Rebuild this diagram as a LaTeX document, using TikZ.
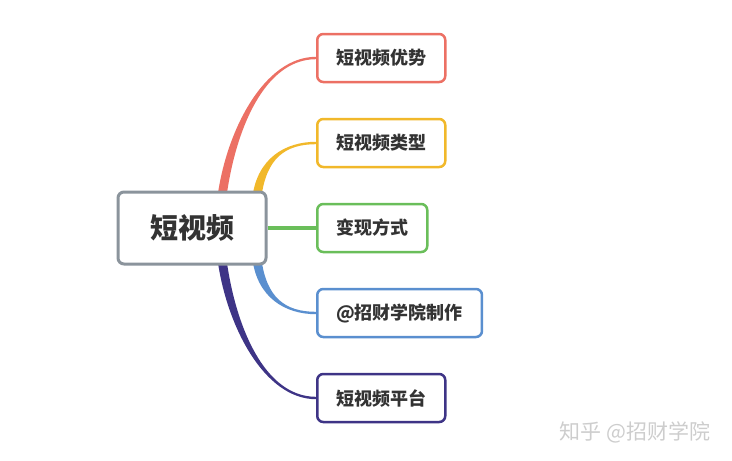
\documentclass[tikz,border=0pt]{standalone}
\usepackage{fontspec}
\newfontfamily\cjk{Noto Sans CJK SC}
\usetikzlibrary{positioning,calc,backgrounds}
\definecolor{rootColor}{RGB}{139,148,156}
\definecolor{textColor}{RGB}{51,51,51}
\definecolor{redColor}{RGB}{236,112,100}
\definecolor{yellowColor}{RGB}{241,184,42}
\definecolor{greenColor}{RGB}{106,190,90}
\definecolor{blueColor}{RGB}{90,143,207}
\definecolor{purpleColor}{RGB}{62,52,134}
\definecolor{markColor}{RGB}{205,205,205}
\tikzstyle{mindMap} = [x = 1pt, y = -1pt]
\tikzstyle{rootStyle} = [draw=rootColor, line width=3pt, fill=white, rounded corners = 6pt, minimum width=148pt, minimum height=72pt, text=textColor, font=\cjk\bfseries\fontsize{28}{30}\selectfont]
\tikzstyle{topicStyle} = [draw=#1, line width=2.5pt, fill=white, rounded corners = 6pt, minimum height=48pt, inner xsep=19pt, anchor=west, text=textColor, font=\cjk\bfseries\fontsize{18}{20}\selectfont]
\tikzstyle{markStyle} = [text=markColor, font=\cjk\fontsize{21}{24}\selectfont]
% color, start, end, first control offset, second control offset, half width, end shift
\newcommand{\branch}[7]{\fill [#1] ($(#2)+(-#6,0)$) .. controls ($(#2)+(#4)+(-#6,0)$) and ($(#3)+(#5)+(0,#7)$) .. ($(#3)+(0,#7)$) -- ($(#3)+(0,-#7)$) .. controls ($(#3)+(#5)+(0,-#7)$) and ($(#2)+(#4)+(#6,0)$) .. ($(#2)+(#6,0)$) -- cycle;}

\begin{document}
\begin{tikzpicture}[mindMap]
  \useasboundingbox (0,0) rectangle (732,461);
  \node [rootStyle] (root) at (192,228) {短视频};

  \node [topicStyle=redColor] (advantage) at (316,58) {短视频优势};
  \node [topicStyle=yellowColor] (kind) at (316,143) {短视频类型};
  \node [topicStyle=greenColor] (income) at (316,228) {变现方式};
  \node [topicStyle=blueColor] (maker) at (316,313) {@招财学院制作};
  \node [topicStyle=purpleColor] (platform) at (316,398) {短视频平台};

  \coordinate (redStart) at ([xshift=30pt, yshift=-6pt]root.north);
  \coordinate (yellowStart) at ([xshift=65pt, yshift=-6pt]root.north);
  \coordinate (blueStart) at ([xshift=65pt, yshift=6pt]root.south);
  \coordinate (purpleStart) at ([xshift=30pt, yshift=6pt]root.south);

  \begin{scope}[on background layer]
    \branch{redColor}{redStart}{advantage.west}{9,-66}{-52,0}{4.5}{-1.2}
    \branch{yellowColor}{yellowStart}{kind.west}{5,-38}{-31,0}{4.5}{-1.2}
    \draw [greenColor, line width=3.5pt] (root.east) -- (income.west);
    \branch{blueColor}{blueStart}{maker.west}{5,38}{-31,0}{4.5}{1.2}
    \branch{purpleColor}{purpleStart}{platform.west}{9,66}{-52,0}{4.5}{1.2}
  \end{scope}

  \node [markStyle] (mark) at (635,432) {知乎 @招财学院};
\end{tikzpicture}
\end{document}
